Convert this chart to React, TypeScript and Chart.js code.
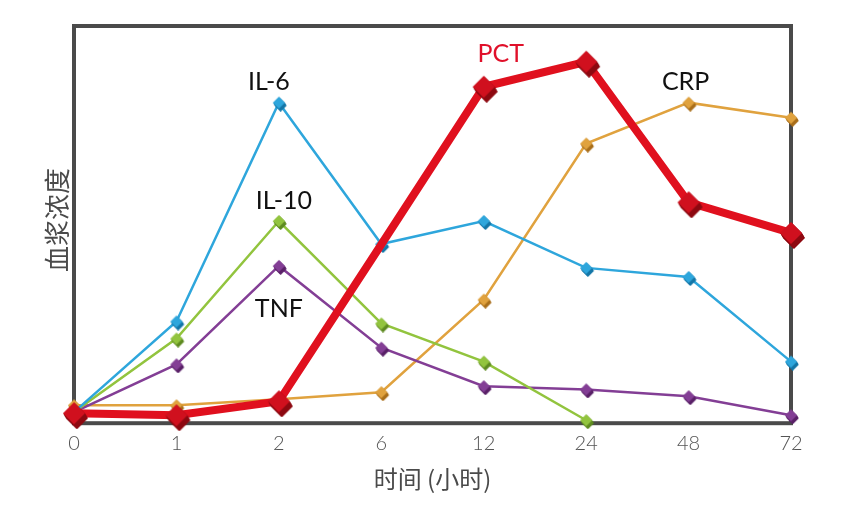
import React, { useEffect, useRef } from 'react';
import { Chart, registerables } from 'chart.js';

Chart.register(...registerables);

const categories = ['0', '1', '2', '6', '12', '24', '48', '72'];
const il6 = [2.8, 25.6, 80.7, 45.1, 50.9, 39.1, 36.8, 15.5];
const il10 = [2.8, 21.3, 50.9, 25.1, 15.5, 0.75, null, null];
const tnf = [2.8, 14.8, 39.6, 19.0, 9.3, 8.5, 6.8, 2.0];
const crp = [4.5, 4.5, 6.0, 7.8, 31.1, 70.4, 80.7, 76.9];
const pct = [2.5, 2.0, 5.5, 45.0, 84.7, 91.0, 55.6, 47.9];

const xTitle = '时间 (小时)';
const yTitle = '血浆浓度';

const LATIN = 'Lato, "Noto Sans", sans-serif';
const CJK = '"Noto Sans CJK SC", sans-serif';

function makeMarker(size: number, depth: number, top: string, side: string): HTMLCanvasElement {
  const c = document.createElement('canvas');
  const W = size + depth * 2;
  c.width = W;
  c.height = W;
  const ctx = c.getContext('2d')!;
  const o = depth;
  const h = size / 2;
  const dia = (dx: number, dy: number) => {
    ctx.beginPath();
    ctx.moveTo(o + h + dx, o + dy);
    ctx.lineTo(o + size + dx, o + h + dy);
    ctx.lineTo(o + h + dx, o + size + dy);
    ctx.lineTo(o + dx, o + h + dy);
    ctx.closePath();
  };
  ctx.fillStyle = side;
  for (let i = depth; i > 0; i -= 0.5) {
    dia(i * 0.6, i);
    ctx.fill();
  }
  ctx.fillStyle = top;
  dia(0, 0);
  ctx.fill();
  return c;
}

export default function App() {
  const ref = useRef<HTMLCanvasElement | null>(null);

  useEffect(() => {
    if (!ref.current) return;

    const mBlue = makeMarker(12, 3, '#2ea6dc', '#1577a8');
    const mGreen = makeMarker(12, 3, '#92c43e', '#5f8c22');
    const mPurple = makeMarker(12, 3, '#833e95', '#5a2268');
    const mOrange = makeMarker(12, 3, '#e0a23e', '#a96f1c');
    const mRed = makeMarker(22, 5, '#d0101e', '#8e0a12');

    const labels = [
      { text: 'IL-6', color: '#111111', data: il6, idx: 2, dx: -10, dy: -21 },
      { text: 'IL-10', color: '#111111', data: il10, idx: 2, dx: 5, dy: -20 },
      { text: 'TNF', color: '#111111', data: tnf, idx: 2, dx: 0, dy: 43 },
      { text: 'PCT', color: '#e0102a', data: pct, idx: 4, dx: 17, dy: -33 },
      { text: 'CRP', color: '#111111', data: crp, idx: 6, dx: -3, dy: -21 },
    ];

    const decor = {
      id: 'decor',
      beforeDatasetsDraw(chart: any) {
        const { ctx, chartArea: a } = chart;
        ctx.save();
        ctx.strokeStyle = '#4a4a4a';
        ctx.lineWidth = 4;
        ctx.strokeRect(a.left, a.top, a.right - a.left, a.bottom - a.top);
        ctx.restore();
      },
      afterDatasetsDraw(chart: any) {
        const { ctx, scales } = chart;
        ctx.save();
        ctx.textAlign = 'center';
        ctx.textBaseline = 'middle';
        ctx.font = `25px ${LATIN}`;
        for (const l of labels) {
          const x = scales.x.getPixelForValue(l.idx) + l.dx;
          const y = scales.y.getPixelForValue(l.data[l.idx] as number) + l.dy;
          ctx.fillStyle = l.color;
          ctx.fillText(l.text, x, y);
        }
        ctx.translate(49, 212);
        ctx.rotate(-Math.PI / 2);
        ctx.font = `26px ${CJK}`;
        ctx.fillStyle = '#4a4a4a';
        ctx.fillText(yTitle, 0, 0);
        ctx.restore();
      },
    };

    const thin = (label: string, data: any[], color: string, marker: HTMLCanvasElement) => ({
      label,
      data,
      borderColor: color,
      backgroundColor: color,
      borderWidth: 2.5,
      pointStyle: marker,
      pointRadius: 6,
      clip: false as any,
      spanGaps: false,
    });

    const chart = new Chart(ref.current, {
      type: 'line',
      data: {
        labels: categories,
        datasets: [
          {
            label: 'PCT',
            data: pct,
            borderColor: '#e0101e',
            backgroundColor: '#e0101e',
            borderWidth: 8,
            pointStyle: mRed,
            pointRadius: [10, 10, 10, 0, 10, 10, 10, 10],
            clip: false as any,
          },
          thin('IL-6', il6, '#2ea6dc', mBlue),
          thin('IL-10', il10, '#92c43e', mGreen),
          thin('TNF', tnf, '#833e95', mPurple),
          thin('CRP', crp, '#e0a23e', mOrange),
        ],
      },
      options: {
        animation: false,
        responsive: false,
        maintainAspectRatio: false,
        layout: { padding: { left: 66, right: 57, top: 16, bottom: 16 } },
        plugins: {
          legend: { display: false },
          tooltip: { enabled: false },
        },
        scales: {
          x: {
            type: 'category',
            offset: false,
            grid: { display: false },
            border: { display: false },
            ticks: {
              color: '#555555',
              font: { family: LATIN, size: 20, weight: 300 as any },
              padding: 0,
              maxRotation: 0,
            },
            title: {
              display: true,
              text: xTitle,
              color: '#4a4a4a',
              font: { family: CJK, size: 24 },
              padding: { top: 9, bottom: 4 },
            },
          },
          y: {
            display: false,
            min: 0,
            max: 100,
          },
        },
      },
      plugins: [decor],
    });

    return () => chart.destroy();
  }, []);

  return (
    <div style={{ width: 840, height: 505 }}>
      <canvas ref={ref} width={840} height={505} style={{ width: 840, height: 505 }} />
    </div>
  );
}
